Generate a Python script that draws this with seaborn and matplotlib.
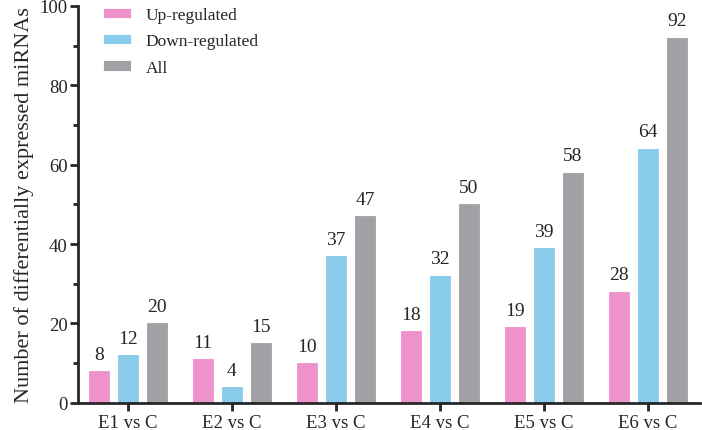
import seaborn as sns
import matplotlib.pyplot as plt
import pandas as pd
from matplotlib.ticker import MultipleLocator

comparisons = ["E1 vs C", "E2 vs C", "E3 vs C", "E4 vs C", "E5 vs C", "E6 vs C"]
up = [8, 11, 10, 18, 19, 28]
down = [12, 4, 37, 32, 39, 64]
total = [20, 15, 47, 50, 58, 92]
groups = ["Up-regulated", "Down-regulated", "All"]
colors = ["#EE92CC", "#88CBEA", "#A1A0A5"]

df = pd.DataFrame({
    "comparison": comparisons * 3,
    "count": up + down + total,
    "group": [g for g in groups for _ in comparisons],
})

sns.set_style("ticks")
plt.rcParams["font.family"] = ["Liberation Serif", "DejaVu Serif"]

fig = plt.figure(figsize=(7.02, 4.31), dpi=100)
ax = fig.add_axes([0.111, 0.063, 0.886, 0.921])

sns.barplot(data=df, x="comparison", y="count", hue="group", palette=colors,
            width=0.84, gap=0.3, ax=ax, saturation=1, linewidth=0.6)
for bars, c in zip(ax.containers, colors):
    for b in bars:
        b.set_edgecolor(c)
    ax.bar_label(bars, padding=6, fontsize=14)

ax.set_ylim(0, 100)
ax.set_xlim(-0.48, 5.5)
ax.yaxis.set_major_locator(MultipleLocator(20))
ax.yaxis.set_minor_locator(MultipleLocator(10))
ax.tick_params(axis="both", which="major", labelsize=13.5, width=2, length=6)
ax.tick_params(axis="x", pad=2)
ax.tick_params(axis="y", pad=1.5)
ax.tick_params(axis="y", which="minor", width=2, length=3.5)
for s in ["left", "bottom"]:
    ax.spines[s].set_linewidth(2)
sns.despine(ax=ax)
ax.set_xlabel("")
ax.set_ylabel("Number of differentially expressed miRNAs", fontsize=16)

ax.legend(loc="upper left", bbox_to_anchor=(0.029, 1.015), borderaxespad=0,
          frameon=False, fontsize=12.5, handlelength=1.6, handleheight=0.55,
          handletextpad=0.86, labelspacing=0.6)

fig.savefig("out.png", dpi=100)
